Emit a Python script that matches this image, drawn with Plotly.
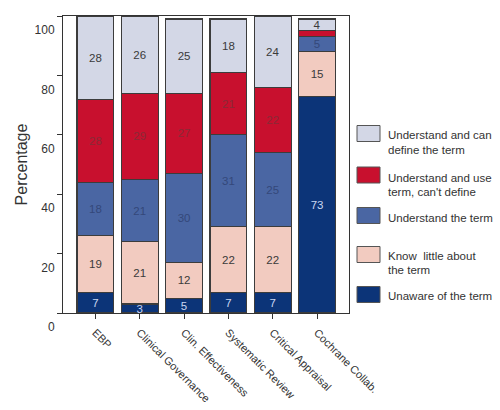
import plotly.graph_objects as go

categories = ["EBP", "Clinical Governance", "Clin. Effectiveness",
              "Systematic Review", "Critical Appraisal", "Cochrane Collab."]

# series values (bottom to top)
unaware = [7, 3, 5, 7, 7, 73]
know_little = [19, 21, 12, 22, 22, 15]
understand = [18, 21, 30, 31, 25, 5]
use_cant_define = [28, 29, 27, 21, 22, 2]
can_define = [28, 26, 25, 18, 24, 4]

series_names = ["Unaware of the term",
                "Know  little about<br>the term",
                "Understand the term",
                "Understand and use<br>term, can't define",
                "Understand and can<br>define the term"]
series_values = [unaware, know_little, understand, use_cant_define, can_define]
fill_colors = ["#0c3478", "#f2cbc0", "#4a66a3", "#c8102e", "#d3d7e6"]
text_colors = ["#c9d6f2", "#3a3a3a", "#34487a", "#8a2a36", "#3a3a3a"]

FONT = "Liberation Sans, Arial, sans-serif"

PL, PR, PT, PB = 63, 349, 16, 313  # plot area in pixels
PW, PH = PR - PL, PB - PT

fig = go.Figure()
for name, vals, fc, tc in zip(series_names, series_values, fill_colors, text_colors):
    fig.add_trace(go.Bar(
        x=categories, y=vals, name=name,
        marker=dict(color=fc, line=dict(color="#3c3c3c", width=1.2)),
        text=[str(v) if v >= 3 else "" for v in vals],
        textposition="inside", insidetextanchor="middle", textangle=0,
        textfont=dict(family=FONT, size=11.5, color=tc),
        width=0.83, showlegend=False,
    ))

# manual legend (top to bottom)
legend_y = [133.5, 175, 215.5, 254.5, 294.5]
legend_text_y = [[135, 150], [178, 192], [218], [256, 270], [296]]
for i, idx in enumerate([4, 3, 2, 1, 0]):
    yc = legend_y[i]
    fig.add_shape(type="rect", xref="paper", yref="paper",
                  x0=(357 - PL) / PW, x1=(380 - PL) / PW,
                  y0=(PB - (yc + 8)) / PH, y1=(PB - (yc - 8)) / PH,
                  fillcolor=fill_colors[idx], line=dict(color="#555", width=1))
    lines = series_names[idx].split("<br>")
    for ln, ty in zip(lines, legend_text_y[i]):
        fig.add_annotation(xref="paper", yref="paper",
                           x=(386 - PL) / PW, y=(PB - ty) / PH,
                           text=ln, showarrow=False, xanchor="left", yanchor="middle",
                           font=dict(family=FONT, size=11.5, color="#333"))

fig.update_layout(
    barmode="stack", bargap=0.17,
    width=500, height=410,
    margin=dict(l=PL, r=500 - PR, t=PT, b=410 - PB, autoexpand=False),
    paper_bgcolor="white", plot_bgcolor="white",
    font=dict(family=FONT, color="#333"),
    uniformtext=dict(minsize=10, mode="show"),
    xaxis=dict(range=[-0.73, 5.72], showline=True, linecolor="#333", linewidth=1,
               mirror=True, ticks="outside", ticklen=5, tickcolor="#333",
               tickangle=45, tickfont=dict(size=11, color="#333"),
               ticklabelstandoff=3,
               showgrid=False, automargin=False),
    yaxis=dict(range=[0, 100], tickvals=[0, 20, 40, 60, 80, 100],
               showline=True, linecolor="#333", linewidth=1, mirror=True,
               ticks="outside", ticklen=5, tickcolor="#333",
               tickfont=dict(size=12, color="#333"), ticklabelshift=14,
               showgrid=False, zeroline=False, automargin=False,
               title=dict(text="Percentage", font=dict(size=16, color="#333"), standoff=2)),
)

fig.write_html("out.html", post_script="document.body.style.margin='0';",
               config={"displayModeBar": False})
